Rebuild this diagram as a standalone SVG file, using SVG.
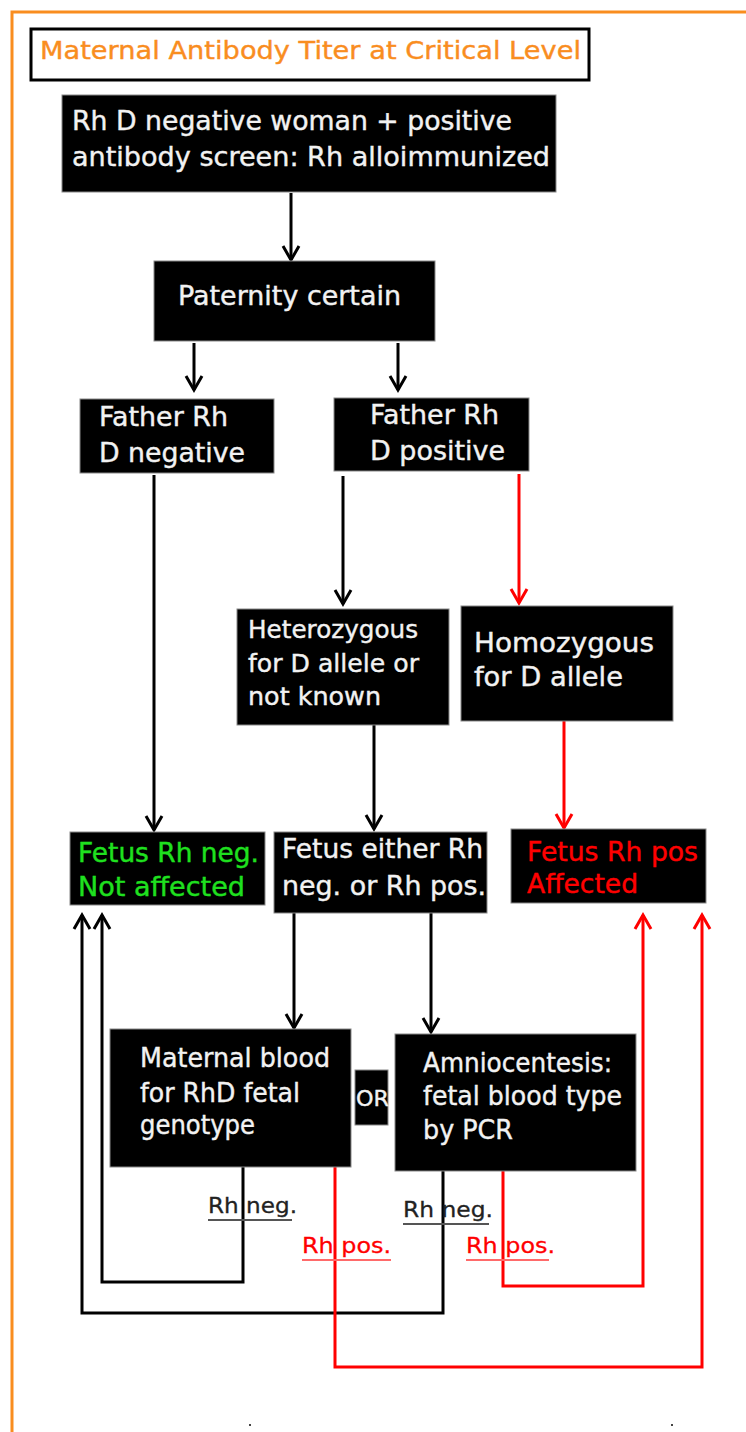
<svg xmlns="http://www.w3.org/2000/svg" width="746" height="1432" viewBox="0 0 746 1432">
<style>
text{font-family:"DejaVu Sans","Noto Sans",sans-serif;}
.box{fill:#000;stroke:#888;stroke-width:1;}
.w{fill:#f2f2f2;stroke:#f2f2f2;stroke-width:0.4;font-size:26px;}
.ws{fill:#f2f2f2;stroke:#f2f2f2;stroke-width:0.4;font-size:25px;}
.g{fill:#1fe01f;stroke:#1fe01f;stroke-width:0.4;font-size:26px;}
.rd{fill:#f00;stroke:#f00;stroke-width:0.4;font-size:26px;}
.k{fill:none;stroke:#000;stroke-width:3;}
.r{fill:none;stroke:#f00;stroke-width:3;}
.lbk{fill:#222;stroke:#222;stroke-width:0.3;font-size:22px;}
.lbr{fill:#f00;stroke:#f00;stroke-width:0.3;font-size:22px;}
</style>
<defs>
<marker id="ak" markerUnits="userSpaceOnUse" markerWidth="30" markerHeight="30" refX="0" refY="0" viewBox="-15 -15 30 30" orient="auto" overflow="visible">
<path d="M-14,-8 L0,0 L-14,8" fill="none" stroke="#000" stroke-width="3"/>
</marker>
<marker id="ar" markerUnits="userSpaceOnUse" markerWidth="30" markerHeight="30" refX="0" refY="0" viewBox="-15 -15 30 30" orient="auto" overflow="visible">
<path d="M-14,-8 L0,0 L-14,8" fill="none" stroke="#f00" stroke-width="3"/>
</marker>
</defs>
<rect width="746" height="1432" fill="#fff"/>
<path d="M12,1432 V12 H746" fill="none" stroke="#f98d1f" stroke-width="3"/>
<g id="title">
<rect x="31" y="29" width="558" height="51" fill="#fff" stroke="#000" stroke-width="3"/>
<text x="40" y="59" style="fill:#f98d1f;stroke:#f98d1f;stroke-width:0.4;font-size:25px" textLength="541" lengthAdjust="spacingAndGlyphs">Maternal Antibody Titer at Critical Level</text>
</g>
<g id="connectors">
<path class="k" d="M291,193 V260" marker-end="url(#ak)"/>
<path class="k" d="M194,343 V390" marker-end="url(#ak)"/>
<path class="k" d="M398,343 V390" marker-end="url(#ak)"/>
<path class="k" d="M154,475 V830" marker-end="url(#ak)"/>
<path class="k" d="M343,476 V604" marker-end="url(#ak)"/>
<path class="r" d="M519,474 V603" marker-end="url(#ar)"/>
<path class="k" d="M374,725 V829" marker-end="url(#ak)"/>
<path class="r" d="M564,721 V828" marker-end="url(#ar)"/>
<path class="k" d="M294,913 V1028" marker-end="url(#ak)"/>
<path class="k" d="M431,913 V1032" marker-end="url(#ak)"/>
<path class="k" d="M243,1167 V1282 H102 V915" marker-end="url(#ak)"/>
<path class="k" d="M443,1171 V1313 H82 V915" marker-end="url(#ak)"/>
<path class="r" d="M335,1167 V1367 H702 V915" marker-end="url(#ar)"/>
<path class="r" d="M503,1171 V1286 H643 V915" marker-end="url(#ar)"/>
</g>
<g id="n1">
<rect class="box" x="62" y="95" width="494" height="97"/>
<text class="w" x="72" y="130" textLength="440" lengthAdjust="spacingAndGlyphs">Rh D negative woman + positive</text>
<text class="w" x="72" y="166" textLength="478" lengthAdjust="spacingAndGlyphs">antibody screen: Rh alloimmunized</text>
</g>
<g id="n2">
<rect class="box" x="154" y="261" width="281" height="80"/>
<text class="w" x="178" y="305" textLength="223" lengthAdjust="spacingAndGlyphs">Paternity certain</text>
</g>
<g id="n3">
<rect class="box" x="80" y="399" width="194" height="74"/>
<text class="w" x="99" y="426" textLength="129" lengthAdjust="spacingAndGlyphs">Father Rh</text>
<text class="w" x="99" y="462" textLength="146" lengthAdjust="spacingAndGlyphs">D negative</text>
</g>
<g id="n4">
<rect class="box" x="334" y="398" width="195" height="73"/>
<text class="w" x="370" y="424" textLength="129" lengthAdjust="spacingAndGlyphs">Father Rh</text>
<text class="w" x="370" y="460" textLength="135" lengthAdjust="spacingAndGlyphs">D positive</text>
</g>
<g id="n5">
<rect class="box" x="237" y="609" width="212" height="116"/>
<text class="ws" x="248" y="638" textLength="170" lengthAdjust="spacingAndGlyphs">Heterozygous</text>
<text class="ws" x="248" y="672" textLength="171" lengthAdjust="spacingAndGlyphs">for D allele or</text>
<text class="ws" x="248" y="705" textLength="133" lengthAdjust="spacingAndGlyphs">not known</text>
</g>
<g id="n6">
<rect class="box" x="461" y="606" width="212" height="115"/>
<text class="w" x="474" y="652" textLength="180" lengthAdjust="spacingAndGlyphs">Homozygous</text>
<text class="w" x="474" y="686" textLength="149" lengthAdjust="spacingAndGlyphs">for D allele</text>
</g>
<g id="n7">
<rect class="box" x="70" y="832" width="195" height="73"/>
<text class="g" x="78" y="862" textLength="181" lengthAdjust="spacingAndGlyphs">Fetus Rh neg.</text>
<text class="g" x="78" y="896" textLength="167" lengthAdjust="spacingAndGlyphs">Not affected</text>
</g>
<g id="n8">
<rect class="box" x="274" y="832" width="213" height="81"/>
<text class="w" x="282" y="858" textLength="201" lengthAdjust="spacingAndGlyphs">Fetus either Rh</text>
<text class="w" x="282" y="895" textLength="204" lengthAdjust="spacingAndGlyphs">neg. or Rh pos.</text>
</g>
<g id="n9">
<rect class="box" x="511" y="829" width="195" height="74"/>
<text class="rd" x="527" y="861" textLength="171" lengthAdjust="spacingAndGlyphs">Fetus Rh pos</text>
<text class="rd" x="527" y="893" textLength="111" lengthAdjust="spacingAndGlyphs">Affected</text>
</g>
<g id="n10">
<rect class="box" x="110" y="1029" width="241" height="138"/>
<text class="w" x="140" y="1067" textLength="190" lengthAdjust="spacingAndGlyphs">Maternal blood</text>
<text class="w" x="140" y="1102" textLength="160" lengthAdjust="spacingAndGlyphs">for RhD fetal</text>
<text class="w" x="140" y="1134" textLength="115" lengthAdjust="spacingAndGlyphs">genotype</text>
</g>
<g id="n11">
<rect class="box" x="355" y="1070" width="33" height="55"/>
<text class="w" x="356" y="1106" style="font-size:22px" textLength="33" lengthAdjust="spacingAndGlyphs">OR</text>
</g>
<g id="n12">
<rect class="box" x="395" y="1034" width="241" height="137"/>
<text class="w" x="423" y="1072" textLength="189" lengthAdjust="spacingAndGlyphs">Amniocentesis:</text>
<text class="w" x="423" y="1105" textLength="199" lengthAdjust="spacingAndGlyphs">fetal blood type</text>
<text class="w" x="423" y="1139" textLength="90" lengthAdjust="spacingAndGlyphs">by PCR</text>
</g>
<g id="labels">
<text class="lbk" x="208" y="1213" textLength="89" lengthAdjust="spacingAndGlyphs">Rh neg.</text>
<line x1="208" y1="1220" x2="292" y2="1220" stroke="#555" stroke-width="2"/>
<text class="lbr" x="302" y="1253" textLength="89" lengthAdjust="spacingAndGlyphs">Rh pos.</text>
<line x1="302" y1="1260" x2="391" y2="1260" stroke="#ff6a6a" stroke-width="2"/>
<text class="lbk" x="403" y="1217" textLength="90" lengthAdjust="spacingAndGlyphs">Rh neg.</text>
<line x1="403" y1="1224" x2="489" y2="1224" stroke="#555" stroke-width="2"/>
<text class="lbr" x="466" y="1253" textLength="89" lengthAdjust="spacingAndGlyphs">Rh pos.</text>
<line x1="466" y1="1260" x2="549" y2="1260" stroke="#ff6a6a" stroke-width="2"/>
</g>
<rect x="249" y="1424" width="2" height="2" fill="#444"/>
<rect x="671" y="1424" width="2" height="2" fill="#444"/>
</svg>
